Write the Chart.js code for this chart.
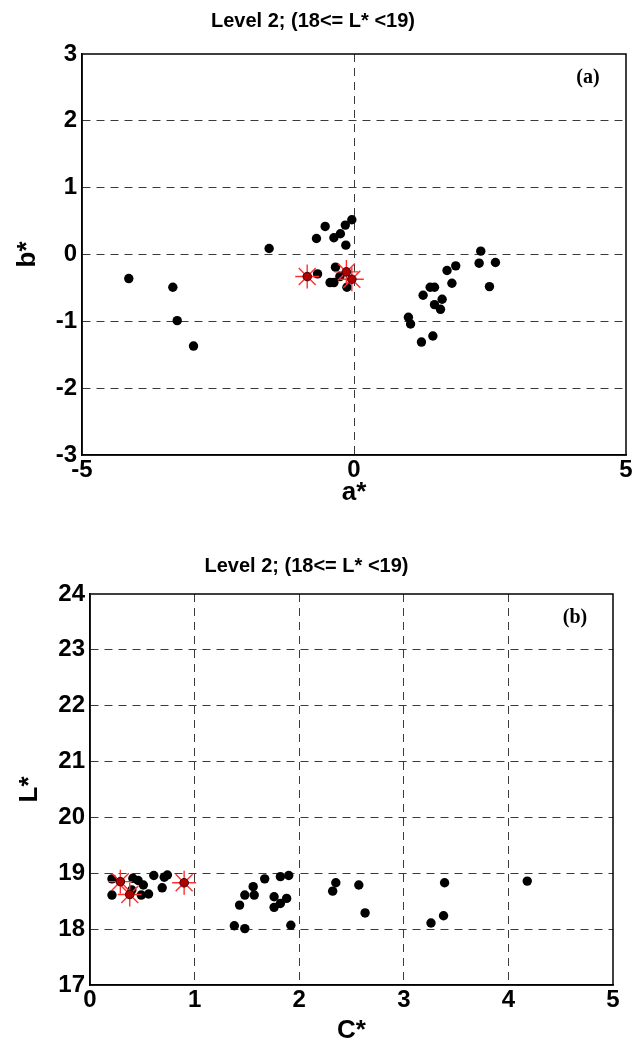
<!DOCTYPE html>
<html>
<head>
<meta charset="utf-8">
<script src="https://cdn.jsdelivr.net/npm/chart.js@4"></script>
<style>
    body { margin: 0; background: #fff; }
    canvas { position: absolute; left: 0; }
    #plot-a { top: 0; }
    #plot-b { top: 525px; }
</style>
</head>
<body>
<canvas id="plot-a" width="635" height="520"></canvas>
<canvas id="plot-b" width="635" height="524"></canvas>
<script>
// (a) a*-b* plane
const aBlack = [-4.14, -3.33, -3.25, -2.95, -1.56, -0.53, -0.04, -0.16, -0.25, -0.37, -0.69, -0.15, -0.34, -0.67, -0.26, -0.44, -0.37, -0.13,
    2.33, 2.30, 2.60, 1.87, 1.71, 2.49, 1.80, 1.40, 1.48, 1.27, 1.62, 1.48, 1.59, 1.00, 1.04, 1.45, 1.24];
const bBlack = [-0.36, -0.49, -0.99, -1.37, 0.09, 0.42, 0.52, 0.44, 0.31, 0.25, 0.24, 0.14, -0.19, -0.29, -0.33, -0.42, -0.42, -0.49,
    0.05, -0.13, -0.12, -0.17, -0.24, -0.48, -0.43, -0.49, -0.49, -0.61, -0.67, -0.75, -0.82, -0.94, -1.04, -1.22, -1.31];
const aRed = [-0.86, -0.14, -0.04];
const bRed = [-0.33, -0.26, -0.37];

// (b) C*-L* plane
const cBlack = [0.21, 0.21, 0.41, 0.46, 0.51, 0.49, 0.40, 0.56, 0.61, 0.69, 0.71, 0.74,
    1.38, 1.48, 1.43, 1.48, 1.56, 1.57, 1.67, 1.76, 1.76, 1.82, 1.88, 1.82, 1.90, 1.92,
    2.35, 2.32, 2.57, 2.63, 3.39, 3.38, 3.26, 4.18];
const lBlack = [18.90, 18.61, 18.91, 18.87, 18.79, 18.61, 18.70, 18.63, 18.96, 18.74, 18.93, 18.97,
    18.06, 18.01, 18.43, 18.61, 18.76, 18.61, 18.90, 18.58, 18.39, 18.46, 18.55, 18.94, 18.96, 18.07,
    18.83, 18.68, 18.79, 18.29, 18.83, 18.24, 18.11, 18.86];
const cRed = [0.29, 0.38, 0.90];
const lRed = [18.85, 18.62, 18.83];

const xTicksA = [-5, 0, 5];
const yTicksA = [-3, -2, -1, 0, 1, 2, 3];
const xTicksB = [0, 1, 2, 3, 4, 5];
const yTicksB = [17, 18, 19, 20, 21, 22, 23, 24];

const titleText = "Level 2; (18<= L* <19)";

(() => {
    const sans = "'Liberation Sans', Arial, sans-serif";
    const gridColor = "#3a3a3a";
    const dash = [8, 6];

    const pts = (xs, ys) => xs.map((x, i) => ({x: x, y: ys[i]}));

    // box round the plot and the panel letter
    const frame = {
        id: "frame",
        afterDraw(chart, args, opts) {
            const {ctx, chartArea} = chart;
            ctx.save();
            ctx.strokeStyle = "#000";
            ctx.lineWidth = 1.5;
            ctx.setLineDash([]);
            ctx.strokeRect(chartArea.left, chartArea.top, chartArea.right - chartArea.left, chartArea.bottom - chartArea.top);
            ctx.fillStyle = "#000";
            ctx.font = "bold 20px 'Liberation Serif', 'Times New Roman', serif";
            ctx.textAlign = "center";
            ctx.textBaseline = "middle";
            ctx.fillText(opts.letter, chartArea.right - 38, chartArea.top + 24);
            ctx.restore();
        }
    };

    function makeAxis(ticks, title, titlePad, fit, isX) {
        return {
            type: "linear",
            min: ticks[0],
            max: ticks[ticks.length - 1],
            afterBuildTicks: s => { s.ticks = ticks.map(v => ({value: v})); },
            afterFit: s => {
                if (isX) {
                    s.height = fit;
                    s.paddingRight = 0;
                } else {
                    s.width = fit;
                }
            },
            grid: {
                color: c => (c.tick && (c.tick.value === ticks[0] || c.tick.value === ticks[ticks.length - 1])) ? "rgba(0,0,0,0)" : gridColor,
                lineWidth: 1,
                drawTicks: false
            },
            border: {display: true, color: "#000", width: 1.5, dash: dash},
            ticks: {
                color: "#000",
                padding: isX ? 1 : 5,
                font: {family: sans, size: 24, weight: "bold"}
            },
            title: {
                display: true,
                text: title,
                color: "#000",
                padding: titlePad,
                font: {family: sans, size: 26, weight: "bold"}
            }
        };
    }

    function makeChart(el, opt) {
        return new Chart(el, {
            type: "scatter",
            data: {
                datasets: [
                    {
                        label: "red centre",
                        data: pts(opt.xr, opt.yr),
                        pointStyle: "circle",
                        pointRadius: 4.3,
                        backgroundColor: "#b00000",
                        borderColor: "#400000",
                        borderWidth: 1
                    },
                    {
                        label: "red star",
                        data: pts(opt.xr, opt.yr),
                        pointStyle: "star",
                        pointRadius: 12,
                        backgroundColor: "rgba(0,0,0,0)",
                        borderColor: "#ff3030",
                        borderWidth: 1.4
                    },
                    {
                        label: "samples",
                        data: pts(opt.xb, opt.yb),
                        pointStyle: "circle",
                        pointRadius: 4.7,
                        backgroundColor: "#000",
                        borderColor: "#000",
                        borderWidth: 0
                    }
                ]
            },
            options: {
                responsive: false,
                animation: false,
                layout: {
                    autoPadding: false,
                    padding: {left: 0, right: opt.padRight, top: 0, bottom: 0}
                },
                scales: {
                    x: makeAxis(opt.xTicks, opt.xTitle, {top: 0, bottom: opt.xTitlePad}, opt.xFit, true),
                    y: makeAxis(opt.yTicks, opt.yTitle, {top: opt.yTitlePad, bottom: 0}, opt.yFit, false)
                },
                plugins: {
                    legend: {display: false},
                    tooltip: {enabled: false},
                    title: {
                        display: true,
                        text: titleText,
                        color: "#000",
                        font: {family: sans, size: 20, weight: "bold"},
                        padding: {top: opt.titleTop, bottom: opt.titleBottom}
                    },
                    frame: {letter: opt.letter}
                }
            },
            plugins: [frame]
        });
    }

    makeChart(document.getElementById("plot-a"), {
        xb: aBlack, yb: bBlack, xr: aRed, yr: bRed,
        xTicks: xTicksA, yTicks: yTicksA,
        xTitle: "a*", yTitle: "b*",
        xFit: 65, yFit: 82, padRight: 9,
        xTitlePad: 12, yTitlePad: 12,
        titleTop: 9, titleBottom: 21,
        letter: "(a)"
    });

    makeChart(document.getElementById("plot-b"), {
        xb: cBlack, yb: lBlack, xr: cRed, yr: lRed,
        xTicks: xTicksB, yTicks: yTicksB,
        xTitle: "C*", yTitle: "L*",
        xFit: 64, yFit: 90, padRight: 22,
        xTitlePad: 3, yTitlePad: 14,
        titleTop: 29, titleBottom: 16,
        letter: "(b)"
    });
})()
</script>
</body>
</html>
